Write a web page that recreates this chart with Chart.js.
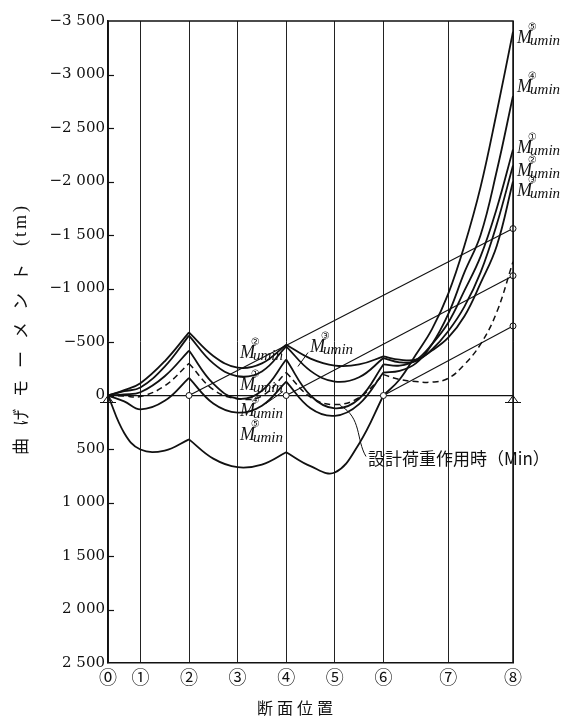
<!DOCTYPE html>
<html><head><meta charset="utf-8">
<script src="https://cdn.jsdelivr.net/npm/chart.js@4.4.1/dist/chart.umd.min.js"></script>
<style>html,body{margin:0;padding:0;background:#fff;}#wrap{width:564px;height:720px;}</style>
</head><body><div id="wrap"><canvas id="c" width="564" height="720"></canvas></div>
<script>
// Section positions along the girder (share of total length) and their labels
const sectionPos = [0, 8, 20, 32, 44, 56, 68, 84, 100];
const sectionLabels = ['⓪','①','②','③','④','⑤','⑥','⑦','⑧'];
const yTickValues = [-3500,-3000,-2500,-2000,-1500,-1000,-500,0,500,1000,1500,2000,2500];
const yTickLabels = ['−3 500','−3 000','−2 500','−2 000','−1 500','−1 000','−500','0','500','1 000','1 500','2 000','2 500'];

// Positions where the moment curves were read; supports (cusps) at 20, 44, 68
const curveX = [0,4,8,14,20, 26,32,38,44, 50,56,62,68, 72,76,80,84,88,92,96,100];
const cuspIdx = [4, 8, 12];

// Bending moment M_umin (tm) for load cases
const mu1 = [0,-10,-30,-180,-420, -110,30,-45,-336, 0,120,30,-290, -280,-330,-480,-680,-980,-1300,-1750,-2300];
const mu2 = [0,-40,-75,-270,-560, -300,-180,-225,-460, -230,-130,-170,-350, -310,-320,-430,-600,-830,-1150,-1600,-2150];
const mu3 = [0,-50,-115,-320,-590, -370,-260,-300,-475, -345,-280,-290,-365, -335,-335,-420,-540,-740,-1050,-1400,-2000];
const mu4 = [0,55,130,50,-165, 75,160,95,-130, 120,190,80,-215, -230,-300,-480,-760,-1150,-1500,-2100,-2800];
const mu5 = [0,350,505,515,410, 590,670,645,530, 660,720,450,0, -150,-380,-620,-950,-1400,-1950,-2650,-3400];
// 設計荷重作用時 (Min), dashed
const muDesign = [0,5,10,-90,-300, -55,30,5,-215, 15,85,20,-195, -150,-130,-125,-160,-290,-480,-780,-1250];

// Straight reference lines (start section -> end at ⑧)
const line1X = [20, 100], line1Y = [0, -1560];
const line2X = [44, 100], line2Y = [0, -1120];
const line3X = [68, 100], line3Y = [0, -650];

function segments(vals) {
  const b = [0, ...cuspIdx, curveX.length - 1];
  const out = [];
  for (let s = 0; s < b.length - 1; s++) {
    const pts = [];
    for (let i = b[s]; i <= b[s + 1]; i++) pts.push({x: curveX[i], y: vals[i]});
    out.push(pts);
  }
  return out;
}
function lineDs(xs, ys) {
  return {data: xs.map((v, i) => ({x: v, y: ys[i]})), borderColor: '#111', borderWidth: 1.1,
    pointRadius: 3, pointBackgroundColor: '#fff', pointBorderColor: '#111', pointBorderWidth: 1,
    tension: 0, clip: 8};
}
const datasets = [lineDs(line1X, line1Y), lineDs(line2X, line2Y), lineDs(line3X, line3Y)];
[mu1, mu2, mu3, mu4, mu5].forEach(c => segments(c).forEach(seg => datasets.push({
  data: seg, borderColor: '#111', borderWidth: 1.8, pointRadius: 0, tension: 0.4})));
segments(muDesign).forEach(seg => datasets.push({
  data: seg, borderColor: '#111', borderWidth: 1.5, borderDash: [6, 4], pointRadius: 0, tension: 0.4}));

// Annotation placements (data coordinates)
const mLabels = [
  {n:'⑤', x:101, y:-3299}, {n:'④', x:101, y:-2832}, {n:'①', x:101, y:-2271},
  {n:'②', x:101, y:-2056}, {n:'③', x:101, y:-1869},
  {n:'②', x:32.6, y:-355}, {n:'①', x:32.6, y:-56}, {n:'④', x:32.6, y:196},
  {n:'③', x:49.9, y:-411}, {n:'⑤', x:32.6, y:420}
];

const decor = {
  id: 'decor',
  afterDraw(chart) {
    const {ctx, chartArea: a, scales: {x, y}} = chart;
    const px = v => x.getPixelForValue(v), py = v => y.getPixelForValue(v);
    ctx.save();
    ctx.strokeStyle = '#111'; ctx.fillStyle = '#111';
    ctx.lineWidth = 1.5;
    ctx.beginPath(); ctx.moveTo(a.left, a.top); ctx.lineTo(a.right, a.top); ctx.lineTo(a.right, a.bottom); ctx.stroke();
    ctx.lineWidth = 1.2;
    yTickValues.forEach((v, i) => {
      if (i === 0 || i === yTickValues.length - 1) return;
      const yy = Math.round(py(v)) + 0.5;
      ctx.beginPath(); ctx.moveTo(a.left, yy); ctx.lineTo(a.left + 6, yy); ctx.stroke();
    });
    // supports
    ctx.lineWidth = 1;
    [0, 100].forEach(s => {
      const cx = px(s), cy = py(0);
      ctx.beginPath(); ctx.moveTo(cx, cy); ctx.lineTo(cx - 5, cy + 7); ctx.lineTo(cx + 5, cy + 7); ctx.closePath(); ctx.stroke();
      ctx.beginPath(); ctx.moveTo(cx - 8, cy + 7); ctx.lineTo(cx + 8, cy + 7); ctx.stroke();
    });
    // M labels
    mLabels.forEach(l => {
      const lx = px(l.x), ly = py(l.y);
      ctx.textAlign = 'left'; ctx.textBaseline = 'alphabetic';
      ctx.font = 'italic 18px "Liberation Serif"';
      ctx.fillText('M', lx, ly);
      ctx.font = 'italic 15px "Liberation Serif"';
      ctx.fillText('umin', lx + 13, ly + 2);
      ctx.font = '10px "DejaVu Sans"';
      ctx.fillText(l.n, lx + 11, ly - 13);
    });
    // leaders
    ctx.lineWidth = 1;
    ctx.beginPath(); ctx.moveTo(px(49.4), py(-402)); ctx.lineTo(px(46.9), py(-271)); ctx.stroke();
    ctx.beginPath(); ctx.moveTo(px(39.0), py(75)); ctx.lineTo(px(43.2), py(-37)); ctx.stroke();
    ctx.beginPath(); ctx.moveTo(px(63.7), py(570));
    ctx.bezierCurveTo(px(61.2), py(411), px(62.7), py(206), px(57.3), py(93)); ctx.stroke();
    ctx.font = '17px "Noto Sans CJK JP"';
    ctx.fillText('設計荷重作用時（Min）', px(64.2), py(654));
    // axis titles
    ctx.font = '16px "Noto Sans CJK JP"';
    ctx.textBaseline = 'middle'; ctx.textAlign = 'left';
    const xt = ['断','面','位','置'];
    xt.forEach((ch, i) => ctx.fillText(ch, 257 + i * 20, 708));
    ctx.save();
    ctx.translate(21, 455); ctx.rotate(-Math.PI / 2);
    const yt = ['曲','げ','モ','ー','メ','ン','ト'];
    ctx.font = '17px "Noto Sans CJK JP"';
    yt.forEach((ch, i) => ctx.fillText(ch, i * 29, 0));
    ctx.font = '18px "Liberation Serif"';
    let cx = 7 * 29 + 6;
    ['(', 't', 'm', ')'].forEach(ch => { ctx.fillText(ch, cx, 0); cx += ctx.measureText(ch).width + 3; });
    ctx.restore();
    ctx.restore();
  }
};

new Chart(document.getElementById('c'), {
  type: 'line',
  data: {datasets},
  options: {
    responsive: false, animation: false, events: [],
    layout: {padding: {top: 21, right: 51, left: 0, bottom: 0}},
    plugins: {legend: {display: false}, tooltip: {enabled: false}},
    scales: {
      x: {
        type: 'linear', min: 0, max: 100,
        afterBuildTicks: s => { s.ticks = sectionPos.map(v => ({value: v})); },
        afterFit: s => { s.height = 57; },
        ticks: {autoSkip: false, maxRotation: 0, padding: 3, color: '#111',
          font: {family: '"Noto Sans CJK JP", "DejaVu Sans"', size: 18},
          callback: (v, i) => sectionLabels[i]},
        grid: {color: '#222', lineWidth: 1, drawTicks: false},
        border: {display: true, color: '#111', width: 1.5}
      },
      y: {
        type: 'linear', min: -3500, max: 2500, reverse: true,
        afterBuildTicks: s => { s.ticks = yTickValues.map(v => ({value: v})); },
        afterFit: s => { s.width = 108; },
        ticks: {autoSkip: false, padding: 3, color: '#111',
          font: {family: '"DejaVu Serif"', size: 15},
          callback: (v, i) => yTickLabels[i]},
        grid: {drawTicks: false, lineWidth: 1.2,
          color: c => (c.tick && c.tick.value === 0) ? '#111' : 'rgba(0,0,0,0)'},
        border: {display: true, color: '#111', width: 1.5}
      }
    }
  },
  plugins: [decor]
});
</script></body></html>
